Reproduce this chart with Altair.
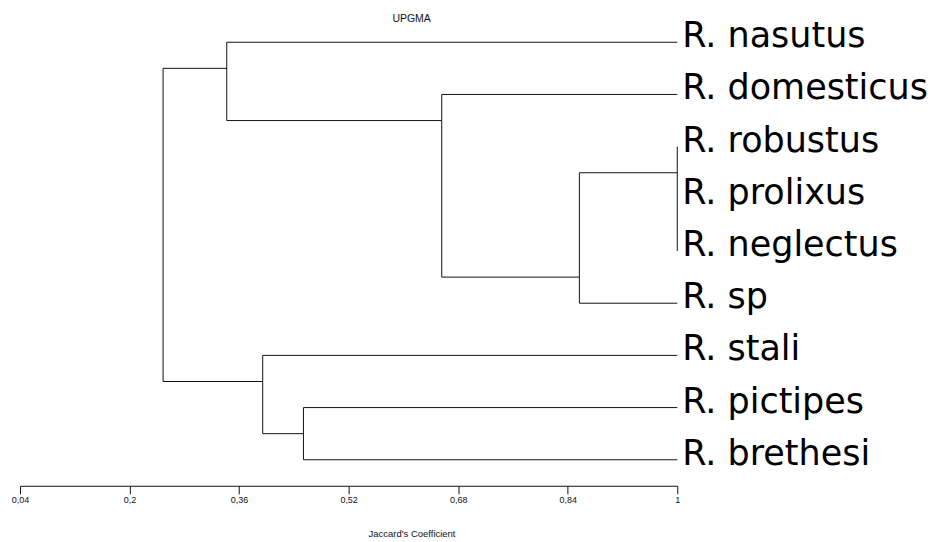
import altair as alt
import pandas as pd

# ---- data ----
leaf_names = ["R. nasutus", "R. domesticus", "R. robustus", "R. prolixus",
              "R. neglectus", "R. sp", "R. stali", "R. pictipes", "R. brethesi"]
leaf_rank = [0, 1, 2, 3, 4, 5, 6, 7, 8]
leaf_sim = [1.0, 1.0, 1.0, 1.0, 1.0, 1.0, 1.0, 1.0, 1.0]

# internal nodes: name, similarity (Jaccard), vertical position (rank units), children
node_names = ["rpn", "sp", "dom", "A", "pb", "B", "root"]
node_sim = [1.0, 0.857, 0.656, 0.342, 0.454, 0.3945, 0.249]
node_rank = [2.5, 4.5, 1.5, 0.5, 7.5, 6.5, 5.5]
node_children = [
    ["R. robustus", "R. prolixus", "R. neglectus"],
    ["rpn", "R. sp"],
    ["R. domesticus", "sp"],
    ["R. nasutus", "dom"],
    ["R. pictipes", "R. brethesi"],
    ["R. stali", "pb"],
    ["A", "B"],
]
tick_values = [0.04, 0.2, 0.36, 0.52, 0.68, 0.84, 1.0]

# ---- build segments ----
pos = {}
for n, s, r in zip(leaf_names, leaf_sim, leaf_rank):
    pos[n] = (s, r)
for n, s, r in zip(node_names, node_sim, node_rank):
    pos[n] = (s, r)

segs = []
for n, s, ch in zip(node_names, node_sim, node_children):
    child_y = [pos[c][1] for c in ch]
    segs.append(dict(x=s, x2=s, y=min(child_y), y2=max(child_y)))
    for c in ch:
        cs, cy = pos[c]
        segs.append(dict(x=s, x2=cs, y=cy, y2=cy))
seg_df = pd.DataFrame(segs)
leaf_df = pd.DataFrame({"name": leaf_names, "x": leaf_sim, "y": leaf_rank})

xscale = alt.Scale(domain=[0.04, 1.0], nice=False, zero=False)
yscale = alt.Scale(domain=[-0.651, 8.498], nice=False, zero=False, reverse=True)

lines = alt.Chart(seg_df).mark_rule(color="#111111", strokeWidth=1).encode(
    x=alt.X("x:Q", scale=xscale,
            axis=alt.Axis(values=tick_values,
                          labelExpr="replace(format(datum.value, '.2~f'), '.', ',')",
                          title="Jaccard's Coefficient",
                          grid=False, domainColor="#111111", tickColor="#111111",
                          tickSize=8, labelFontSize=9, labelFont="Liberation Sans",
                          labelColor="#111111", labelPadding=2, labelFlush=False,
                          labelOverlap=False,
                          titleFont="Liberation Sans", titleFontSize=9.5,
                          titleFontWeight="normal", titleColor="#111111",
                          titleX=392, titleY=48, titleAlign="center",
                          titleBaseline="middle")),
    x2="x2:Q",
    y=alt.Y("y:Q", scale=yscale, axis=None),
    y2="y2:Q",
)

labels = alt.Chart(leaf_df).mark_text(
    align="left", baseline="middle", dx=5, dy=-6,
    font="DejaVu Sans", fontSize=35, color="#000000"
).encode(
    x=alt.X("x:Q", scale=xscale),
    y=alt.Y("y:Q", scale=yscale),
    text="name:N",
)

chart = alt.layer(lines, labels).properties(
    width=658, height=478,
    padding={"left": 12, "top": 0, "right": 255, "bottom": 54},
    autosize=alt.AutoSizeParams(type="none"),
    title=alt.TitleParams(text="UPGMA", font="Liberation Sans", fontSize=10.5,
                          fontWeight="normal", color="#111111", anchor="middle",
                          frame="group", baseline="middle", offset=0, dx=63, dy=21),
).configure_view(stroke=None)

chart.save("out.html", embed_options={"renderer": "svg", "actions": False})
